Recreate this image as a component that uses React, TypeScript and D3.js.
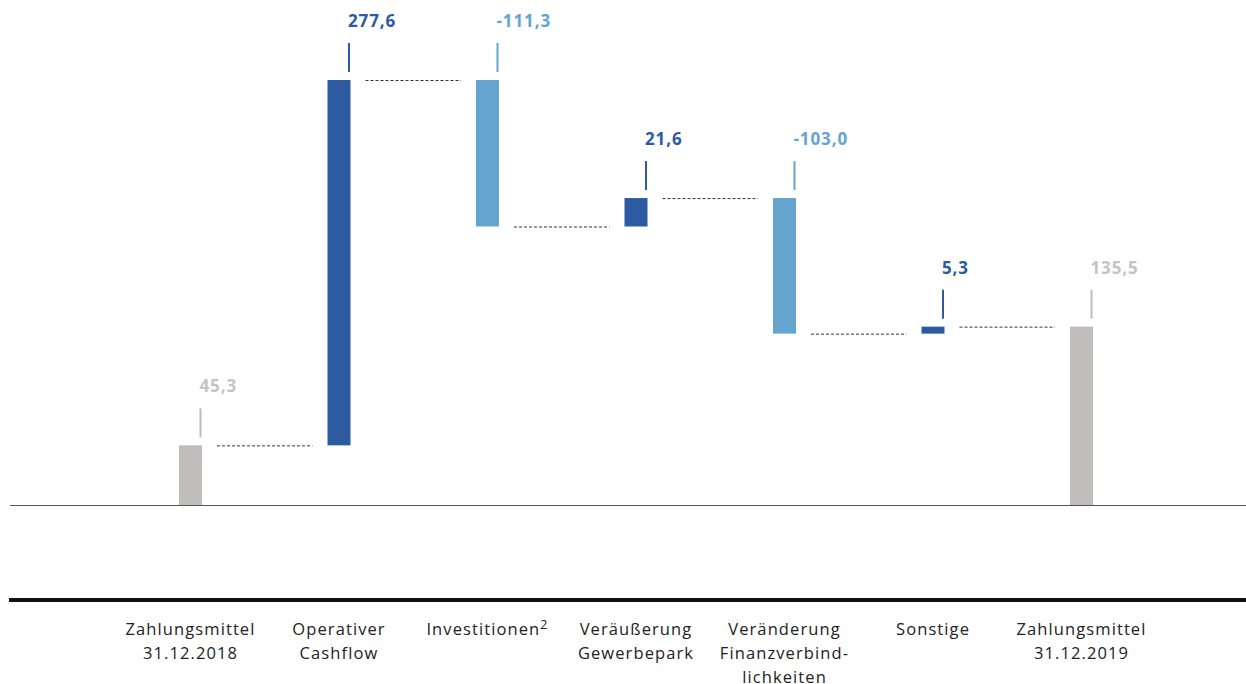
import React from "react";
import * as d3 from "d3";

const categories = [
  "Zahlungsmittel\n31.12.2018",
  "Operativer\nCashflow",
  "Investitionen",
  "Veräußerung\nGewerbepark",
  "Veränderung\nFinanzverbind-\nlichkeiten",
  "Sonstige",
  "Zahlungsmittel\n31.12.2019",
];
const values = [45.3, 277.6, -111.3, 21.6, -103.0, 5.3, 135.5];
const kinds = ["total", "delta", "delta", "delta", "delta", "delta", "total"];
const footnotes = ["", "", "2", "", "", "", ""];

const W = 1246;
const H = 684;
const FONT = "'Open Sans', 'Noto Sans', sans-serif";

const colors = { total: "#bebdbb", pos: "#2d5aa0", neg: "#64a4cf" };
const labelColors = { total: "#c4c4c4", pos: "#2d5aa0", neg: "#64a4cf" };

const fmt = (v: number) => v.toFixed(1).replace(".", ",");

export default function App() {
  // cumulative start/end of every step
  let run = 0;
  const steps = values.map((v, i) => {
    if (kinds[i] === "total") {
      run = v;
      return { start: 0, end: v, kind: "total" };
    }
    const s = run;
    run += v;
    return { start: s, end: run, kind: v >= 0 ? "pos" : "neg" };
  });

  const x = d3.scalePoint<number>().domain(d3.range(categories.length)).range([190.5, 1081.5]);
  const y = d3.scaleLinear().domain([0, 322.9]).range([505, 80]);
  const bw = 23;

  return (
    <svg width={W} height={H} style={{ position: "absolute", left: 0, top: 0 }} fontFamily={FONT}>
      <line x1={10} x2={W} y1={505.5} y2={505.5} stroke="#555" strokeWidth={1} />
      <line x1={9} x2={W} y1={600} y2={600} stroke="#111" strokeWidth={4} />

      {steps.map((s, i) => {
        const cx = x(i)!;
        const top = y(Math.max(s.start, s.end));
        const bot = y(Math.min(s.start, s.end));
        const tx = cx + bw / 2 - 1.5;
        const col = colors[s.kind as keyof typeof colors];
        const lcol = labelColors[s.kind as keyof typeof labelColors];
        return (
          <g key={i}>
            <rect x={cx - bw / 2} y={top} width={bw} height={bot - top} fill={col} />
            <line x1={tx} x2={tx} y1={top - 8} y2={top - 37} stroke={col} strokeWidth={2} />
            <text x={tx - 1} y={top - 53} fill={lcol} fontSize={17} fontWeight={700} letterSpacing={0.9}>
              {fmt(values[i])}
            </text>
            {i < steps.length - 1 && (
              <line
                x1={cx + bw / 2 + 15}
                x2={x(i + 1)! - bw / 2 - 15}
                y1={y(s.end) + 0.5}
                y2={y(s.end) + 0.5}
                stroke="#333"
                strokeWidth={1}
                strokeDasharray="3,2"
              />
            )}
            <text textAnchor="middle" fill="#222" fontSize={16.5} letterSpacing={1.1}>
              {categories[i].split("\n").map((ln, j) => (
                <tspan key={j} x={cx} y={635 + j * 24}>
                  {ln}
                  {j === 0 && footnotes[i] ? (
                    <tspan fontSize={12.5} dy={-6}>{footnotes[i]}</tspan>
                  ) : null}
                </tspan>
              ))}
            </text>
          </g>
        );
      })}
    </svg>
  );
}
